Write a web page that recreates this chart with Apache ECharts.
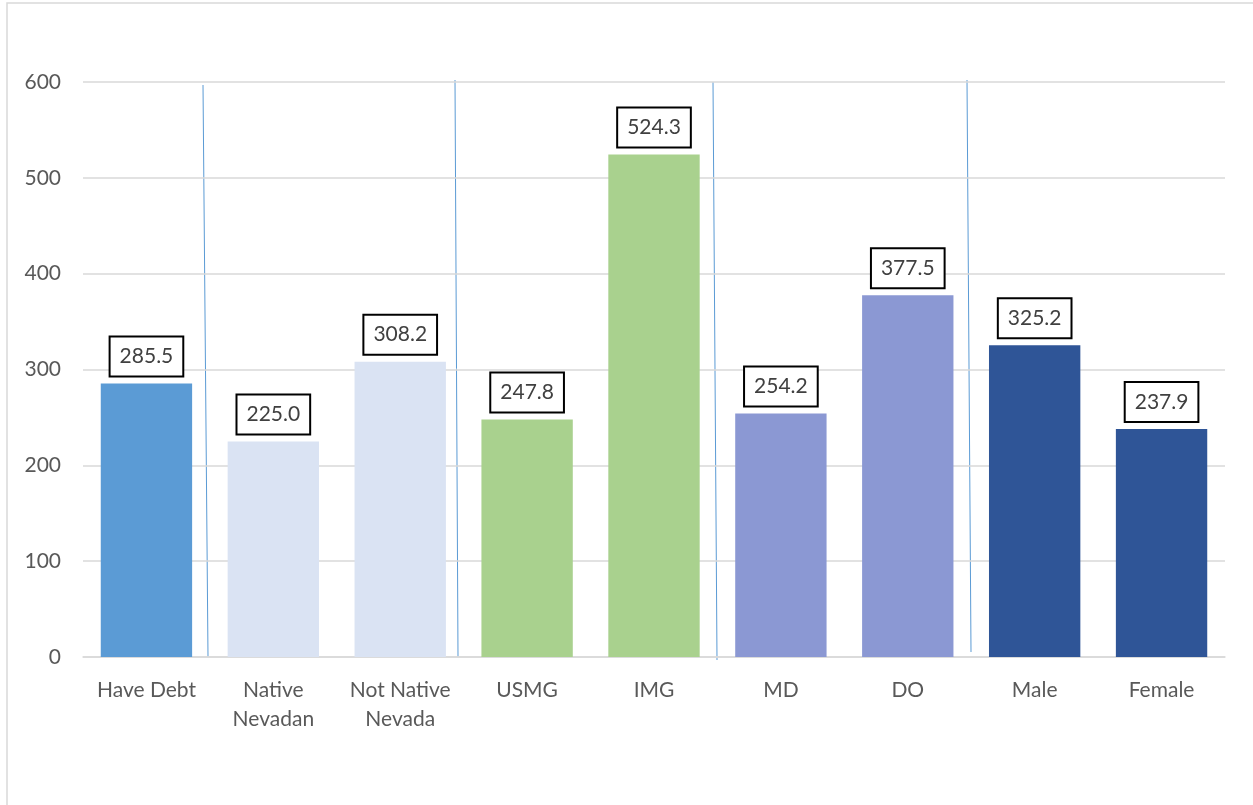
<!DOCTYPE html>
<html>
<head>
<meta charset="utf-8">
<script src="https://cdn.jsdelivr.net/npm/echarts@6/dist/echarts.min.js"></script>
<style>html,body{margin:0;padding:0;background:#fff;}#c{width:1253px;height:805px;}</style>
</head>
<body>
<div id="c"></div>
<script>
const categories = ['Have Debt', 'Native\nNevadan', 'Not Native\nNevada', 'USMG', 'IMG', 'MD', 'DO', 'Male', 'Female'];
const values = [285.5, 225.0, 308.2, 247.8, 524.3, 254.2, 377.5, 325.2, 237.9];
const barColors = ['#5b9bd5', '#dae3f3', '#dae3f3', '#a9d18e', '#a9d18e', '#8b98d3', '#8b98d3', '#2f5597', '#2f5597'];
const yTicks = [0, 100, 200, 300, 400, 500, 600];

const chart = echarts.init(document.getElementById('c'));
const font = 'Lato, "Open Sans", sans-serif';
chart.setOption({
  animation: false,
  backgroundColor: '#fff',
  grid: { left: 83, right: 28, top: 82, bottom: 148, containLabel: false },
  xAxis: {
    type: 'category',
    data: categories,
    axisLine: { lineStyle: { color: '#d9d9d9', width: 1.5 } },
    axisTick: { show: false },
    axisLabel: { color: '#595959', fontSize: 21, fontFamily: font, margin: 19, lineHeight: 29, interval: 0 }
  },
  yAxis: {
    type: 'value',
    min: yTicks[0],
    max: yTicks[yTicks.length - 1],
    interval: 100,
    axisLine: { show: false },
    axisTick: { show: false },
    splitLine: { lineStyle: { color: '#d9d9d9', width: 1.5 } },
    axisLabel: { color: '#595959', fontSize: 21, fontFamily: font, margin: 22 }
  },
  series: [{
    type: 'bar',
    data: values.map((v, i) => ({ value: v, itemStyle: { color: barColors[i] } })),
    barCategoryGap: '28%',
    label: {
      show: true,
      position: 'top',
      distance: 8,
      formatter: p => p.value.toFixed(1),
      color: '#404040',
      fontSize: 21,
      fontFamily: font,
      lineHeight: 22,
      backgroundColor: '#fff',
      borderColor: '#000',
      borderWidth: 2,
      padding: [8, 9]
    }
  }],
  graphic: [
    { type: 'rect', shape: { x: 7, y: 3, width: 1300, height: 820 }, style: { fill: 'none', stroke: '#d9d9d9', lineWidth: 1.5 }, silent: true },
    { type: 'line', shape: { x1: 203, y1: 85, x2: 208, y2: 657 }, style: { stroke: '#5b9bd5', lineWidth: 1 } },
    { type: 'line', shape: { x1: 455, y1: 80, x2: 458, y2: 657 }, style: { stroke: '#5b9bd5', lineWidth: 1 } },
    { type: 'line', shape: { x1: 713, y1: 82, x2: 717, y2: 660 }, style: { stroke: '#5b9bd5', lineWidth: 1 } },
    { type: 'line', shape: { x1: 967, y1: 80, x2: 971, y2: 652 }, style: { stroke: '#5b9bd5', lineWidth: 1 } }
  ]
});
</script>
</body>
</html>
